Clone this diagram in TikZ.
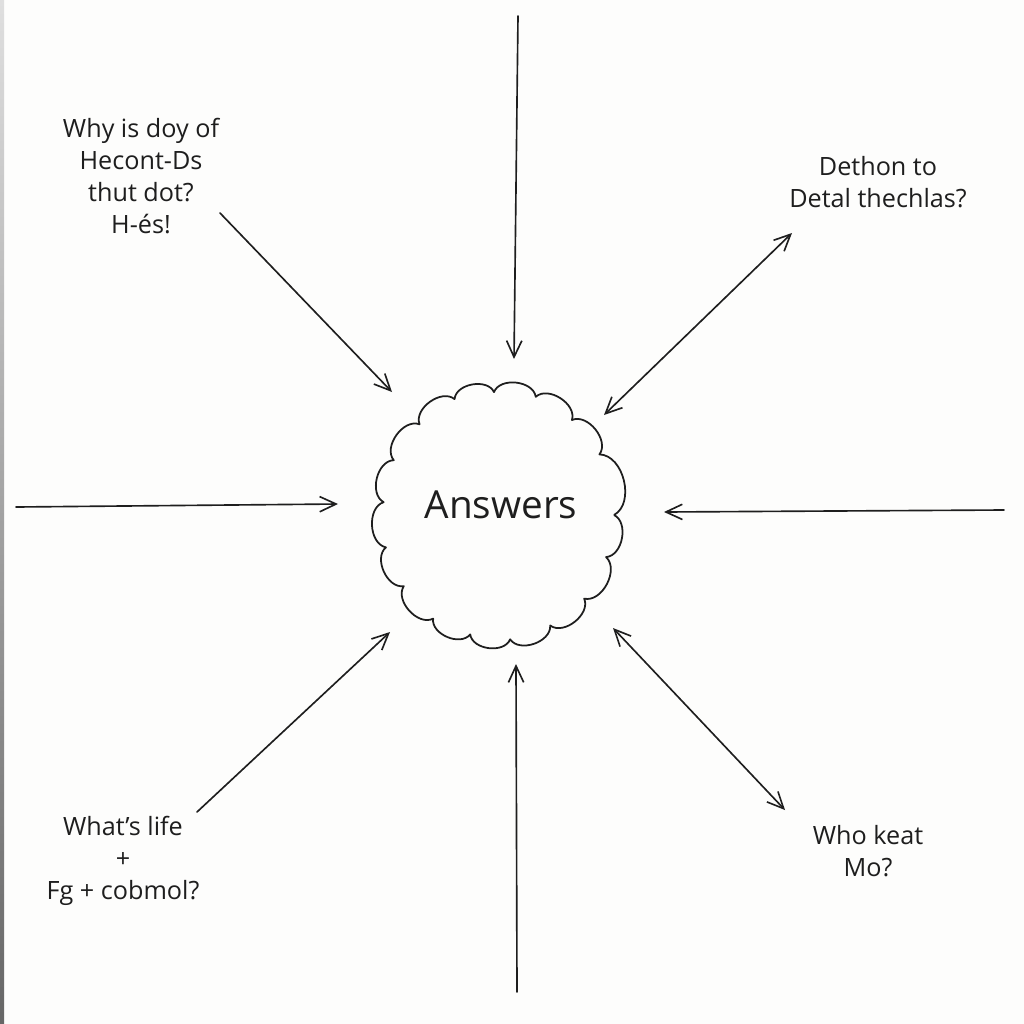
\documentclass[tikz,border=0pt]{standalone}
\usepackage{fontspec}
\setmainfont{Open Sans}
\usetikzlibrary{arrows.meta}
\definecolor{ink}{HTML}{1E1E1E}
\definecolor{paper}{HTML}{FDFDFC}
\tikzset{
  conn/.style={draw=ink, line width=1.4pt, line cap=round},
  tipend/.style={-{Straight Barb[length=14pt,width=13pt,line width=1.4pt]}},
  tipboth/.style={{Straight Barb[length=14pt,width=13pt,line width=1.4pt]}-{Straight Barb[length=14pt,width=13pt,line width=1.4pt]}},
  lbl/.style={text=ink, font=\fontsize{21.5}{27.3}\selectfont, align=center, inner sep=0pt},
  cloudline/.style={draw=ink, line width=1.5pt, line join=round}
}
\begin{document}
\begin{tikzpicture}[x=0.3mm, y=-0.3mm]
\fill[paper] (0,0) rectangle (1024,1024);
\useasboundingbox (0,0) rectangle (1024,1024);
% page edge shadow
\shade[top color=gray!25, bottom color=gray!80!black] (0,0) rectangle (4,1024);

% cloud
\coordinate (c) at (498,515);
\draw[cloudline, shift={(498,515)}]
  (0:116 and 125)
  to[bend left=75] (20:115 and 123)
  to[bend left=75] (42:116 and 125)
  to[bend left=75] (63:115 and 124)
  to[bend left=75] (84:116 and 125)
  to[bend left=75] (104:115 and 123)
  to[bend left=75] (124:116 and 125)
  to[bend left=75] (145:115 and 124)
  to[bend left=75] (165:116 and 125)
  to[bend left=75] (186:115 and 123)
  to[bend left=75] (206:116 and 125)
  to[bend left=75] (227:115 and 124)
  to[bend left=75] (248:116 and 125)
  to[bend left=75] (268:115 and 123)
  to[bend left=75] (289:116 and 125)
  to[bend left=75] (310:115 and 124)
  to[bend left=75] (331:116 and 125)
  to[bend left=75] (360:116 and 125);
\node[text=ink, font=\fontsize{33}{38}\selectfont, inner sep=0pt] (ans) at (501,505) {Answers};

% labels
\node[lbl] (q1) at (141,176) {Why is doy of\\Hecont-Ds\\thut dot?\\H-és!};
\node[lbl] (q2) at (878,182) {Dethon to\\Detal thechlas?};
\node[lbl] (q3) at (123,861) {What’s life\\+\\Fg + cobmol?};
\node[lbl] (q4) at (868,851) {Who keat\\Mo?};

% connector end points
\coordinate (t0) at (518,16);   \coordinate (t1) at (514,359);
\coordinate (a0) at (220,213);  \coordinate (a1) at (392,392);
\coordinate (b0) at (604,415);  \coordinate (b1) at (792,233);
\coordinate (l0) at (16,507);   \coordinate (l1) at (338,504);
\coordinate (r0) at (1004,510); \coordinate (r1) at (664,512);
\coordinate (d0) at (197,812);  \coordinate (d1) at (390,632);
\coordinate (m0) at (517,992);  \coordinate (m1) at (516,664);
\coordinate (e0) at (613,628);  \coordinate (e1) at (785,810);

\draw[conn, tipend] (t0) -- (t1);
\draw[conn, tipend] (a0) -- (a1);
\draw[conn, tipboth] (b0) -- (b1);
\draw[conn, tipend] (l0) -- (l1);
\draw[conn, tipend] (r0) -- (r1);
\draw[conn, tipend] (d0) -- (d1);
\draw[conn, tipend] (m0) -- (m1);
\draw[conn, tipboth] (e0) -- (e1);
\end{tikzpicture}
\end{document}
